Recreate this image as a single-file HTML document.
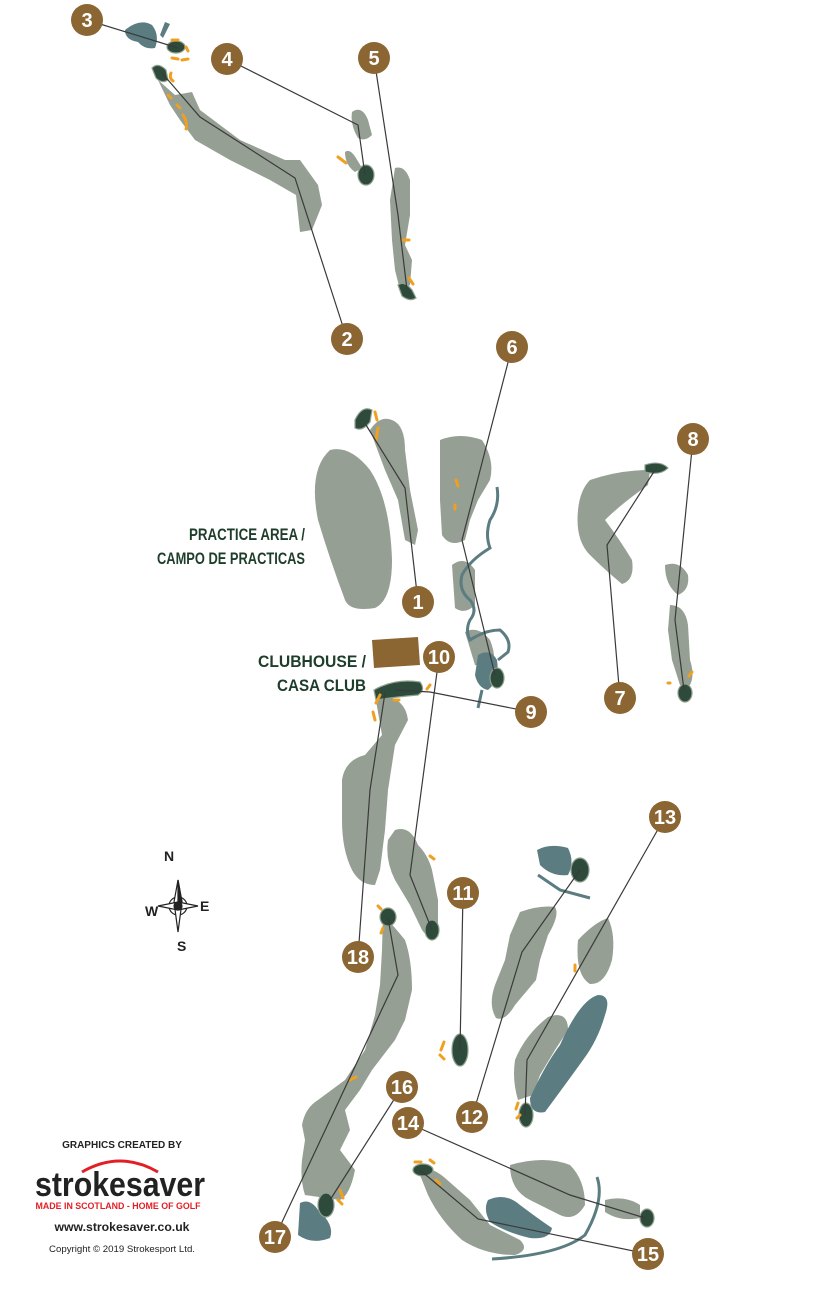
<!DOCTYPE html>
<html><head><meta charset="utf-8"><style>
html,body{margin:0;padding:0;background:#fff;}
svg{display:block;}
</style></head><body>
<svg width="817" height="1291" viewBox="0 0 817 1291" xmlns="http://www.w3.org/2000/svg" font-family="Liberation Sans, sans-serif">
<g fill="#959f93">
<path d="M158,80 L175,95 L192,92 L200,110 L240,140 L285,160 L300,160 L318,185 L322,205 L312,230 L300,232 L296,195 L270,180 L230,160 L195,140 L180,120 L170,105 Z"/>
<path d="M352,112 Q362,105 368,120 L372,135 Q365,142 358,138 Q350,125 352,112Z"/>
<path d="M345,152 Q350,148 356,158 L362,168 L355,172 Q345,165 345,152Z"/>
<path d="M395,168 Q405,165 410,180 L410,215 L405,245 L412,260 L410,285 L400,290 L395,270 L392,240 L390,200 Z"/>
<path d="M330,450 Q350,445 370,470 Q390,500 392,560 Q392,600 375,608 Q350,612 345,600 Q330,560 318,520 Q308,470 330,450Z"/>
<path d="M370,430 Q380,415 392,420 Q405,425 405,450 L410,490 L418,530 L415,545 L405,540 L398,500 L385,470 Z"/>
<path d="M440,440 Q460,432 482,440 Q495,460 490,480 L478,500 L470,520 L465,540 Q450,548 442,535 L440,500 Z"/>
<path d="M452,565 Q465,555 475,570 L475,605 Q465,615 455,608 Z"/>
<path d="M465,632 Q478,625 490,640 Q498,660 490,668 L475,665 Z"/>
<path d="M590,480 Q620,470 650,470 L648,485 Q620,505 605,520 Q620,540 632,560 Q635,580 622,584 Q605,570 590,555 Q575,540 578,510 Q580,490 590,480Z"/>
<path d="M665,565 Q680,560 688,575 Q690,590 678,595 Q665,585 665,565Z"/>
<path d="M670,605 Q685,605 688,625 L690,660 Q695,675 690,685 L680,685 L672,660 L668,630 Z"/>
<path d="M375,695 Q405,695 408,720 L395,745 L388,790 L385,830 L380,870 L375,885 Q360,885 352,870 Q342,850 342,820 L342,780 Q345,760 365,755 L382,735 Z"/>
<path d="M395,830 Q410,825 418,845 Q428,855 432,870 L438,900 L438,930 Q430,942 422,930 L410,905 L395,880 Q385,860 388,840 Z"/>
<path d="M520,912 Q540,905 555,907 Q560,915 548,935 L540,960 L536,980 L515,1005 Q505,1022 496,1018 Q488,1005 495,985 L505,960 L510,935 Z"/>
<path d="M578,940 Q595,922 608,918 Q616,935 612,960 Q605,985 590,984 Q575,975 578,940Z"/>
<path d="M548,1017 Q568,1010 568,1030 L555,1050 L540,1075 L533,1095 L518,1100 Q512,1080 515,1060 Q525,1035 548,1017Z"/>
<path d="M383,915 Q393,925 405,940 Q412,960 412,990 L405,1020 L395,1040 L372,1070 L360,1090 L345,1110 L350,1130 L340,1150 L355,1170 Q350,1195 340,1200 L305,1195 Q300,1180 302,1160 L305,1140 L302,1125 Q305,1108 318,1100 L345,1080 L365,1050 L375,1015 L380,985 L382,950 Z"/>
<path d="M510,1165 Q545,1155 570,1165 Q585,1180 585,1205 Q575,1222 560,1215 L530,1200 Q510,1190 510,1165Z"/>
<path d="M418,1170 Q430,1165 445,1178 L470,1200 L490,1225 L520,1240 Q530,1250 515,1255 Q485,1255 462,1240 Q440,1220 428,1195 Z"/>
<path d="M605,1200 Q625,1195 640,1205 L640,1218 Q620,1222 605,1212 Z"/>
</g>
<g fill="#5b7c80">
<path d="M125,30 Q140,18 152,25 Q160,35 155,48 Q145,50 138,42 Q125,40 125,30Z"/>
<path d="M160,35 L165,22 L170,24 L163,38Z"/>
<path d="M537,850 Q550,843 568,848 Q575,862 568,875 Q552,877 540,865 Z"/>
<path d="M598,995 Q612,995 605,1015 Q598,1040 583,1060 Q565,1085 545,1112 Q530,1115 530,1098 Q545,1065 560,1045 Q580,1000 598,995Z"/>
<path d="M488,1200 Q505,1192 520,1205 Q540,1220 552,1228 Q550,1240 530,1238 Q505,1232 490,1222 Q483,1210 488,1200Z"/>
<path d="M300,1203 Q310,1198 318,1210 Q335,1225 330,1238 Q312,1245 298,1235 Z"/>
<path d="M478,655 Q490,648 497,660 Q500,680 488,690 Q478,688 475,675Z"/>
</g>
<g fill="none" stroke="#5b7c80" stroke-width="3">
<path d="M497,487 Q500,505 490,520 Q485,535 490,548 Q470,560 462,575 Q458,590 470,600 Q478,610 470,620 Q465,630 470,640 Q485,630 500,630 Q512,640 508,652 L498,660"/>
<path d="M482,690 L478,708"/>
<path d="M538,875 L560,890 L590,898"/>
<path d="M597,1177 Q605,1200 585,1235 Q560,1255 492,1259"/>
</g>
<g fill="#2d4a3b" stroke="#8fa08f" stroke-width="1.2">
<ellipse cx="176" cy="47" rx="9" ry="6"/>
<path d="M152,68 Q158,62 166,70 L168,80 Q162,84 156,78 Z"/>
<ellipse cx="366" cy="175" rx="8" ry="10"/>
<path d="M398,285 Q404,280 412,290 L416,298 Q410,302 402,296Z"/>
<path d="M355,420 Q362,405 372,410 L370,422 Q362,432 355,428Z"/>
<path d="M645,465 Q660,460 668,468 Q660,476 645,472Z"/>
<ellipse cx="685" cy="693" rx="7" ry="9"/>
<path d="M374,690 Q395,678 420,682 Q426,690 418,695 Q395,697 376,700Z"/>
<ellipse cx="497" cy="678" rx="7" ry="10"/>
<ellipse cx="580" cy="870" rx="9" ry="12"/>
<ellipse cx="432" cy="930" rx="7" ry="10"/>
<ellipse cx="388" cy="917" rx="8" ry="9"/>
<ellipse cx="460" cy="1050" rx="8" ry="16"/>
<ellipse cx="526" cy="1115" rx="7" ry="12"/>
<ellipse cx="326" cy="1205" rx="8" ry="12"/>
<ellipse cx="423" cy="1170" rx="10" ry="6"/>
<ellipse cx="647" cy="1218" rx="7" ry="9"/>
</g>
<g fill="none" stroke="#f0a020" stroke-width="3" stroke-linecap="round">
<path d="M172,40 l6,0 M186,47 l2,4 M172,58 l6,1 M182,60 l6,-1"/>
<path d="M171,73 q-2,5 2,8 M168,95 l3,3 M177,105 l3,3 M183,115 q5,8 3,14"/>
<path d="M338,157 l8,6"/>
<path d="M403,240 l6,0 M409,278 l4,6"/>
<path d="M375,412 l2,8 M378,428 l-2,12"/>
<path d="M456,480 l2,6 M455,505 l0,4"/>
<path d="M692,672 l-3,4 M668,683 l2,0"/>
<path d="M380,695 l-4,8 M373,712 l2,8 M394,700 l5,0 M430,685 l-3,4"/>
<path d="M430,856 l4,3"/>
<path d="M575,965 l0,6"/>
<path d="M378,906 l3,3 M383,928 l-2,5"/>
<path d="M444,1042 l-3,8 M440,1055 l4,4"/>
<path d="M350,1080 l6,-3"/>
<path d="M518,1103 l-2,6 M520,1115 l-3,3"/>
<path d="M340,1190 l3,8 M338,1200 l4,4"/>
<path d="M415,1162 l6,0 M430,1160 l4,3 M436,1180 l4,4"/>
</g>
<path d="M372,640 L418,637 L420,665 L374,668 Z" fill="#8b6532"/>
<g fill="none" stroke="#3a3a3a" stroke-width="1.2">
<path d="M87,20 L178,48"/>
<path d="M347,339 L295,178 L200,117 L162,73"/>
<path d="M227,59 L358,125 L365,175"/>
<path d="M374,58 L398,215 L407,290"/>
<path d="M512,347 L462,540 L495,675"/>
<path d="M418,602 L405,488 L366,425"/>
<path d="M693,439 L675,620 L684,690"/>
<path d="M620,698 L607,545 L655,470"/>
<path d="M531,712 L430,692 L395,690"/>
<path d="M439,657 L410,875 L432,930"/>
<path d="M358,957 L370,790 L385,693"/>
<path d="M463,893 L460,1050"/>
<path d="M665,817 L527,1060 L525,1115"/>
<path d="M472,1117 L522,952 L580,870"/>
<path d="M402,1087 L330,1200"/>
<path d="M275,1237 L398,975 L388,918"/>
<path d="M408,1123 L570,1195 L645,1218"/>
<path d="M648,1254 L478,1219 L420,1170"/>
</g>
<g font-family="Liberation Sans Narrow, Liberation Sans, sans-serif" font-weight="bold" font-size="20" fill="#fff" text-anchor="middle">
<g fill="#8b6532"><circle cx="87" cy="20" r="16"/><circle cx="227" cy="59" r="16"/><circle cx="374" cy="58" r="16"/><circle cx="347" cy="339" r="16"/><circle cx="512" cy="347" r="16"/><circle cx="693" cy="439" r="16"/><circle cx="418" cy="602" r="16"/><circle cx="439" cy="657" r="16"/><circle cx="531" cy="712" r="16"/><circle cx="620" cy="698" r="16"/><circle cx="665" cy="817" r="16"/><circle cx="463" cy="893" r="16"/><circle cx="358" cy="957" r="16"/><circle cx="402" cy="1087" r="16"/><circle cx="408" cy="1123" r="16"/><circle cx="472" cy="1117" r="16"/><circle cx="275" cy="1237" r="16"/><circle cx="648" cy="1254" r="16"/></g>
<text x="87" y="27">3</text><text x="227" y="66">4</text><text x="374" y="65">5</text><text x="347" y="346">2</text><text x="512" y="354">6</text><text x="693" y="446">8</text><text x="418" y="609">1</text><text x="439" y="664">10</text><text x="531" y="719">9</text><text x="620" y="705">7</text><text x="665" y="824">13</text><text x="463" y="900">11</text><text x="358" y="964">18</text><text x="402" y="1094">16</text><text x="408" y="1130">14</text><text x="472" y="1124">12</text><text x="275" y="1244">17</text><text x="648" y="1261">15</text>
</g>
<g font-family="Liberation Sans Narrow, Liberation Sans, sans-serif" font-weight="bold" font-size="17" fill="#1e3d2a" text-anchor="end">
<text x="305" y="540" textLength="116" lengthAdjust="spacingAndGlyphs">PRACTICE AREA /</text>
<text x="305" y="564" textLength="148" lengthAdjust="spacingAndGlyphs">CAMPO DE PRACTICAS</text>
<text x="366" y="667" textLength="108" lengthAdjust="spacingAndGlyphs">CLUBHOUSE /</text>
<text x="366" y="691" textLength="89" lengthAdjust="spacingAndGlyphs">CASA CLUB</text>
</g>
<g stroke="#222" fill="none" stroke-width="1.2">
<circle cx="178" cy="906" r="9"/>
<path d="M178,880 L182,902 L178,932 L174,902 Z" fill="#fff"/>
<path d="M158,906 L178,902 L198,906 L178,910 Z" fill="#fff"/>
<path d="M178,880 L182,902 L178,906 Z" fill="#222"/>
<circle cx="178" cy="906" r="4" fill="#222"/>
</g>
<g font-size="14" fill="#222" font-weight="bold"><text x="164" y="861">N</text><text x="145" y="916">W</text><text x="200" y="911">E</text><text x="177" y="951">S</text></g>
<g text-anchor="middle" fill="#222">
<text x="122" y="1148" font-size="10" font-weight="bold">GRAPHICS CREATED BY</text>
<path d="M82,1172 Q120,1150 158,1172" fill="none" stroke="#e21f26" stroke-width="3"/>
<text x="120" y="1196" font-size="34" font-weight="bold" textLength="170" lengthAdjust="spacingAndGlyphs" fill="#222">strokesaver</text>
<text x="118" y="1209" font-size="9.5" font-weight="bold" fill="#e21f26" textLength="165" lengthAdjust="spacingAndGlyphs">MADE IN SCOTLAND - HOME OF GOLF</text>
<text x="122" y="1231" font-size="12" font-weight="bold" textLength="135" lengthAdjust="spacingAndGlyphs">www.strokesaver.co.uk</text>
<text x="122" y="1252" font-size="9" textLength="146" lengthAdjust="spacingAndGlyphs">Copyright © 2019 Strokesport Ltd.</text>
</g>
</svg>
</body></html>
